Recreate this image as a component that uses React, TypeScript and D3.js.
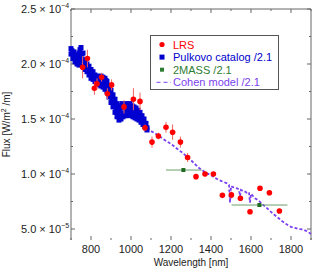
import React from 'react';
import * as d3 from 'd3';

// LRS (wavelength nm, flux 1e-4 W/m^2/m, error)
const lrsWave = [758, 782, 817, 830, 853, 882, 903, 965, 1012, 1045, 1070, 1105, 1137, 1175, 1208, 1247, 1283, 1325, 1370, 1412, 1457, 1502, 1547, 1595, 1645, 1692, 1742];
const lrsFlux = [1.97, 2.05, 1.78, 1.82, 1.88, 1.73, 1.81, 1.61, 1.68, 1.66, 1.42, 1.29, 1.345, 1.425, 1.38, 1.29, 1.15, 0.976, 1.0, 1.0, 0.806, 0.81, 0.78, 0.657, 0.87, 0.83, 0.664];
const lrsErr = [0.1, 0.08, 0.06, 0.05, 0.04, 0.05, 0.05, 0.06, 0.1, 0.08, 0.03, 0.05, 0.03, 0.05, 0.07, 0.05, 0.04, 0.02, 0.02, 0.02, 0.02, 0.03, 0.02, 0.02, 0.02, 0.02, 0.02];

// Pulkovo catalog /2.1 (two readings per wavelength)
const pulkovoWave = [700, 705, 710, 715, 720, 725, 730, 735, 740, 745, 750, 755, 760, 765, 770, 775, 780, 785, 790, 795, 800, 805, 810, 815, 820, 825, 830, 835, 840, 845, 850, 855, 860, 865, 870, 875, 880, 885, 890, 895, 900, 905, 910, 915, 920, 925, 930, 935, 940, 945, 950, 955, 960, 965, 970, 975, 980, 985, 990, 995, 1000, 1005, 1010, 1015, 1020, 1025, 1030, 1035, 1040, 1045, 1050, 1055, 1060, 1065, 1070, 1075, 1080];
const pulkovoHi = [2.14, 2.12, 2.1, 2.11, 2.08, 2.06, 2.08, 2.04, 2.1, 2.13, 2.15, 2.09, 2.1, 2.03, 2.04, 1.99, 2.0, 1.96, 1.98, 1.93, 1.95, 1.91, 1.93, 1.89, 1.9, 1.86, 1.89, 1.85, 1.88, 1.86, 1.89, 1.85, 1.88, 1.84, 1.87, 1.85, 1.84, 1.79, 1.8, 1.74, 1.76, 1.7, 1.72, 1.66, 1.68, 1.63, 1.64, 1.6, 1.62, 1.58, 1.61, 1.64, 1.6, 1.63, 1.61, 1.64, 1.6, 1.63, 1.59, 1.64, 1.6, 1.62, 1.58, 1.61, 1.57, 1.6, 1.56, 1.58, 1.54, 1.56, 1.52, 1.53, 1.49, 1.5, 1.46, 1.46, 1.42];
const pulkovoLo = [2.09, 2.1, 2.05, 2.07, 2.02, 2.04, 2.0, 2.03, 1.99, 2.06, 2.04, 2.03, 1.98, 2.0, 1.95, 1.97, 1.93, 1.95, 1.9, 1.92, 1.87, 1.89, 1.86, 1.87, 1.84, 1.85, 1.82, 1.84, 1.81, 1.83, 1.8, 1.82, 1.79, 1.81, 1.77, 1.8, 1.75, 1.76, 1.7, 1.71, 1.65, 1.67, 1.61, 1.63, 1.56, 1.59, 1.52, 1.55, 1.49, 1.52, 1.5, 1.54, 1.52, 1.55, 1.53, 1.56, 1.54, 1.57, 1.53, 1.56, 1.54, 1.55, 1.52, 1.55, 1.51, 1.53, 1.5, 1.52, 1.49, 1.5, 1.47, 1.48, 1.45, 1.46, 1.43, 1.42, 1.4];

// 2MASS /2.1 (centre, band edges)
const tmassWave = [1262, 1642];
const tmassFlux = [1.036, 0.718];
const tmassLo = [1175, 1503];
const tmassHi = [1353, 1782];

// Cohen model /2.1
const cohenWave = [1100, 1120, 1140, 1160, 1180, 1200, 1220, 1240, 1260, 1280, 1300, 1320, 1340, 1360, 1380, 1400, 1420, 1440, 1460, 1480, 1490, 1495, 1500, 1510, 1520, 1530, 1540, 1545, 1550, 1560, 1570, 1580, 1590, 1595, 1600, 1610, 1620, 1640, 1660, 1680, 1700, 1720, 1740, 1760, 1780, 1800, 1820, 1840, 1860, 1880, 1900];
const cohenFlux = [1.39, 1.37, 1.345, 1.32, 1.295, 1.275, 1.245, 1.215, 1.19, 1.155, 1.125, 1.09, 1.055, 1.03, 1.005, 0.99, 0.965, 0.945, 0.93, 0.915, 0.9, 0.74, 0.89, 0.88, 0.875, 0.87, 0.86, 0.8, 0.855, 0.845, 0.84, 0.83, 0.835, 0.74, 0.82, 0.8, 0.78, 0.755, 0.72, 0.69, 0.655, 0.625, 0.595, 0.565, 0.54, 0.52, 0.51, 0.5, 0.495, 0.48, 0.455];

const yMajor = [0.5, 1.0, 1.5, 2.0, 2.5];
const yMinor = [0.75, 1.25, 1.75, 2.25];
const yLabels = ['5.0', '1.0', '1.5', '2.0', '2.5'];
const yExp = ['−5', '−4', '−4', '−4', '−4'];
const xMajor = [800, 1000, 1200, 1400, 1600, 1800];
const xMinor = [700, 900, 1100, 1300, 1500, 1700, 1900];

const legendItems = ['LRS', 'Pulkovo catalog /2.1', '2MASS /2.1', 'Cohen model /2.1'];
const legendColors = ['#ff0000', '#0000cc', '#2e7d32', '#7a3ff0'];

const W = 312, H = 273;
const L = 71, R = 311, T = 9, B = 240;

export default function App() {
  const x = d3.scaleLinear().domain([700, 1900]).range([L, R]);
  const y = d3.scaleLinear().domain([0.4, 2.5]).range([B, T]);
  const font = 'Arial, "Liberation Sans", sans-serif';

  const cohenLine = d3.line<number>().x((_, i) => x(cohenWave[i])).y(d => y(d));

  return (
    <svg width={W} height={H} style={{ position: 'absolute', left: 0, top: 0 }} fontFamily={font}>
      <rect width={W} height={H} fill="#fff" />

      {/* frame: left, top, right */}
      <path d={`M${L},${B}V${T}H${R}V${B}`} fill="none" stroke="#666" strokeWidth={1} />

      {yMajor.map(v => (
        <g key={'ym' + v}>
          <line x1={L} x2={L + 4} y1={y(v)} y2={y(v)} stroke="#666" />
          <line x1={R} x2={R - 4} y1={y(v)} y2={y(v)} stroke="#666" />
        </g>
      ))}
      {yMinor.map(v => (
        <g key={'yn' + v}>
          <line x1={L} x2={L + 2} y1={y(v)} y2={y(v)} stroke="#666" />
          <line x1={R} x2={R - 2} y1={y(v)} y2={y(v)} stroke="#666" />
        </g>
      ))}
      {xMajor.map(v => (
        <g key={'xm' + v}>
          <line x1={x(v)} x2={x(v)} y1={B} y2={B - 4} stroke="#666" />
          <line x1={x(v)} x2={x(v)} y1={T} y2={T + 4} stroke="#666" />
          <text x={x(v)} y={B + 13} fontSize={11} textAnchor="middle" fill="#222">{v}</text>
        </g>
      ))}
      {xMinor.map(v => (
        <g key={'xn' + v}>
          <line x1={x(v)} x2={x(v)} y1={B} y2={B - 2} stroke="#666" />
          <line x1={x(v)} x2={x(v)} y1={T} y2={T + 2} stroke="#666" />
        </g>
      ))}

      {yMajor.map((v, i) => (
        <text key={'yl' + v} x={21} y={y(v) + 4} fontSize={11} fill="#222">
          {yLabels[i]} × 10<tspan fontSize={7} dy={-5}>{yExp[i]}</tspan>
        </text>
      ))}

      <text transform={`translate(10,${(T + B) / 2}) rotate(-90)`} textAnchor="middle" fontSize={10} fill="#222">
        Flux [W/m<tspan fontSize={7} dy={-4}>2</tspan><tspan dy={4}> /m]</tspan>
      </text>
      <text x={(L + R) / 2} y={266} textAnchor="middle" fontSize={10} fill="#222">Wavelength [nm]</text>

      {/* Pulkovo */}
      {pulkovoWave.map((w, i) => (
        <g key={'p' + w}>
          <rect x={x(w) - 2.5} y={y(pulkovoHi[i]) - 2.5} width={5} height={5} fill="#0000d0" />
          <rect x={x(w) - 2.5} y={y(pulkovoLo[i]) - 2.5} width={5} height={5} fill="#0000d0" />
        </g>
      ))}

      {/* Cohen model */}
      <path d={cohenLine(cohenFlux) || ''} fill="none" stroke="#7a3ff0" strokeWidth={1.8} strokeDasharray="3,2" />

      {/* 2MASS */}
      {tmassWave.map((w, i) => (
        <g key={'t' + w}>
          <line x1={x(tmassLo[i])} x2={x(tmassHi[i])} y1={y(tmassFlux[i])} y2={y(tmassFlux[i])} stroke="#6a9f6a" strokeWidth={1} />
          <rect x={x(w) - 2} y={y(tmassFlux[i]) - 2} width={4} height={4} fill="#1e6b1e" />
        </g>
      ))}

      {/* LRS */}
      {lrsWave.map((w, i) => (
        <g key={'l' + w}>
          <line x1={x(w)} x2={x(w)} y1={y(lrsFlux[i] - lrsErr[i])} y2={y(lrsFlux[i] + lrsErr[i])} stroke="#f06060" strokeWidth={1} />
          <line x1={x(w - 10)} x2={x(w + 10)} y1={y(lrsFlux[i])} y2={y(lrsFlux[i])} stroke="#f8a0a0" strokeWidth={1} strokeDasharray="2,2" />
          <circle cx={x(w)} cy={y(lrsFlux[i])} r={2.8} fill="#ff0000" />
        </g>
      ))}

      {/* legend */}
      <rect x={150.5} y={35.5} width={128} height={54} fill="#fff" stroke="#555" />
      {legendItems.map((t, i) => {
        const cy = 44.5 + i * 12.6;
        return (
          <g key={t}>
            {i === 0 && <circle cx={162} cy={cy} r={2.6} fill={legendColors[0]} />}
            {i === 1 && <rect x={159.5} y={cy - 2.5} width={5} height={5} fill={legendColors[1]} />}
            {i === 2 && <rect x={160} y={cy - 2} width={4} height={4} fill={legendColors[2]} />}
            {i === 3 && <line x1={156.5} x2={171} y1={cy} y2={cy} stroke={legendColors[3]} strokeWidth={1} strokeDasharray="4,3" />}
            <text x={173} y={cy + 4} fontSize={11} fill={legendColors[i]}>{t}</text>
          </g>
        );
      })}
    </svg>
  );
}
